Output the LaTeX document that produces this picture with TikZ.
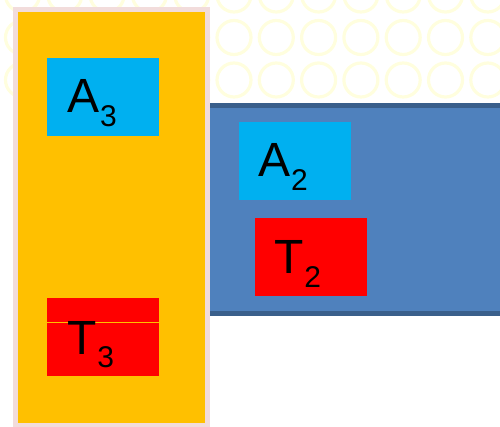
\documentclass[tikz,border=0pt]{standalone}
\usepackage{fontspec}
\setmainfont{Liberation Sans}
\definecolor{orangefill}{HTML}{FFC000}
\definecolor{pinkedge}{HTML}{F2DCDB}
\definecolor{barfill}{HTML}{4F81BD}
\definecolor{baredge}{HTML}{3A5F8B}
\definecolor{cyanfill}{HTML}{00B0F0}
\definecolor{redfill}{HTML}{FF0000}
\definecolor{ringcol}{RGB}{255,254,222}
\newcommand{\subtxt}[2]{{\fontsize{48}{48}\selectfont #1}\hspace{1pt}\raisebox{-13.3pt}{\fontsize{30}{30}\selectfont #2}}
\tikzset{
  ring/.style={draw=ringcol, line width=3.2pt},
  panel/.style={rectangle, draw=pinkedge, line width=5pt, fill=orangefill, inner sep=0pt, outer sep=0pt, anchor=north west},
  bar/.style={rectangle, draw=baredge, line width=5pt, fill=barfill, inner sep=0pt, outer sep=0pt, anchor=north west},
  tile/.style={rectangle, minimum width=112pt, minimum height=78pt, inner sep=0pt, outer sep=0pt, anchor=north west},
  cyantile/.style={tile, fill=cyanfill},
  redtile/.style={tile, fill=redfill},
  lbl/.style={inner sep=0pt, outer sep=0pt, anchor=base west, text=black}
}
\begin{document}
\begin{tikzpicture}[x=1pt, y=-1pt]
\useasboundingbox (0,0) rectangle (500,427);
\clip (0,0) rectangle (500,427);
% background rings
\begin{scope}
  \clip (0,0) rectangle (500,103);
  \foreach \i in {-1,...,12} {
    \foreach \j in {0,1,2} {
      \draw[ring] (22.5+42.3*\i, -5+42.5*\j) circle (17);
    }
  }
\end{scope}
% blue bar
\node[bar, minimum width=360pt, minimum height=207.6pt] (bar) at (150,105.8) {};
% orange panel
\node[panel, minimum width=192.5pt, minimum height=415.5pt] (panel) at (15,10) {};
% tiles
\node[cyantile] (a3) at (47,58) {};
\node[redtile] (t3) at (47,298) {};
\coordinate (t3l) at (47,322.3);
\coordinate (t3r) at (159,322.3);
\draw[orangefill, line width=1pt] (t3l) -- (t3r);
\node[cyantile] (a2) at (239,122) {};
\node[redtile] (t2) at (255,218) {};
% labels
\node[lbl] (a3t) at ([xshift=20pt,yshift=-55pt]a3.north west) {\subtxt{A}{3}};
\node[lbl] (t3t) at ([xshift=20pt,yshift=-56pt]t3.north west) {\subtxt{T}{3}};
\node[lbl] (a2t) at ([xshift=19pt,yshift=-55pt]a2.north west) {\subtxt{A}{2}};
\node[lbl] (t2t) at ([xshift=19pt,yshift=-56pt]t2.north west) {\subtxt{T}{2}};
\end{tikzpicture}
\end{document}
